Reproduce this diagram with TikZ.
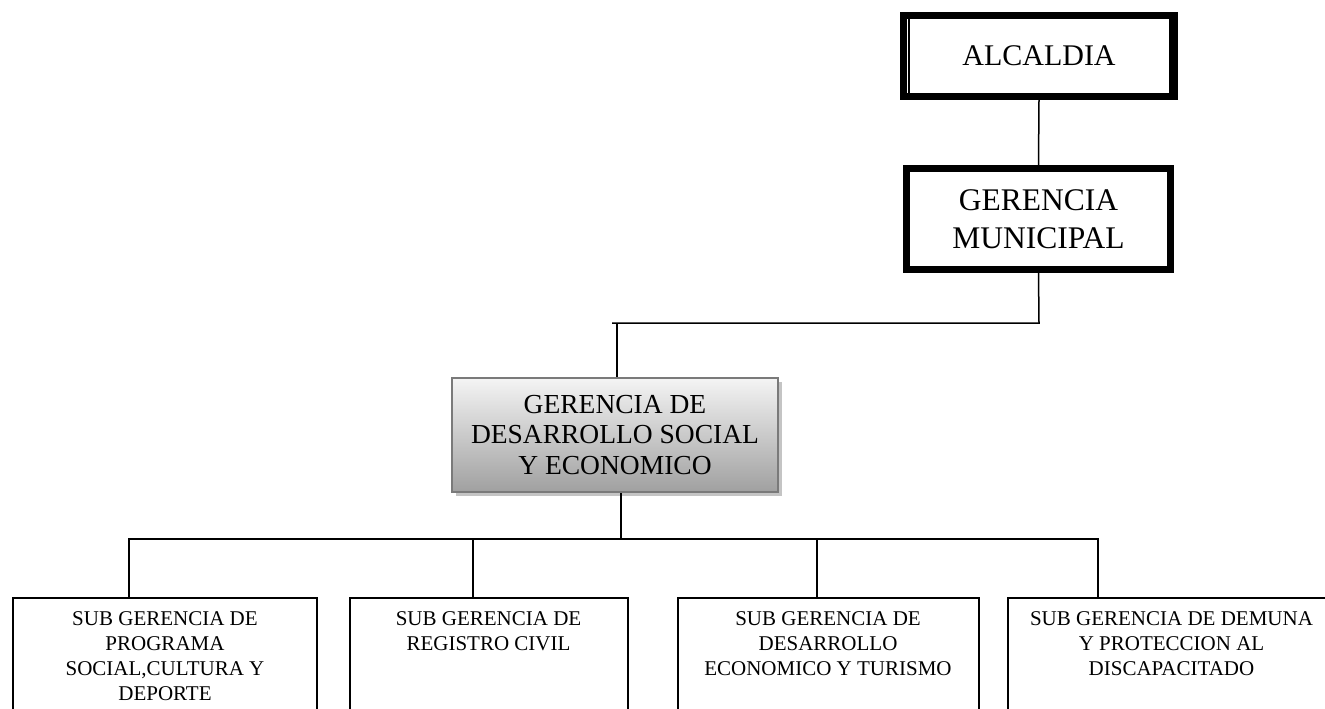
\documentclass[tikz,border=0pt]{standalone}
\usepackage{fontspec}
\setmainfont{Liberation Serif}
\usetikzlibrary{shadows}
\definecolor{gtop}{HTML}{F4F4F4}
\definecolor{gbot}{HTML}{A0A0A0}
\definecolor{gborder}{HTML}{7A7A7A}
\definecolor{gshadow}{HTML}{C4C4C4}
\begin{document}
\begin{tikzpicture}[x=1pt,y=-1pt,
  conn/.style={line width=1.5pt},
  alcbox/.style={draw, line width=7pt, minimum width=271pt, minimum height=81pt, inner sep=0pt, font=\fontsize{30}{36}\selectfont},
  innerline/.style={line width=2pt},
  gmbox/.style={draw, line width=7pt, minimum width=264pt, minimum height=101pt, inner sep=0pt, align=center, font=\fontsize{31.5}{38}\selectfont},
  gdsbox/.style={draw=gborder, line width=2pt, top color=gtop, bottom color=gbot, minimum width=326pt, minimum height=114pt, inner sep=0pt, align=center, font=\fontsize{27.5}{30.5}\selectfont,
    drop shadow={shadow xshift=4pt, shadow yshift=-4pt, fill=gshadow, opacity=1}},
  subbox/.style={draw, line width=2pt, minimum height=140pt, anchor=north, inner sep=0pt},
  subtext/.style={anchor=north, inner sep=0pt, align=center, font=\fontsize{21}{25}\selectfont}
]
\useasboundingbox (0,0) rectangle (1325,709);
\clip (0,0) rectangle (1325,709);

\node[alcbox] (alc) at (1039,56) {ALCALDIA};
\draw[innerline] ([shift={(8.5,6.5)}]alc.north west) rectangle ([shift={(-8.5,-6.5)}]alc.south east);

\node[gmbox] (gm) at (1038.5,219) {GERENCIA\\MUNICIPAL};

\node[gdsbox] (gds) at (615,435) {GERENCIA DE\\DESARROLLO SOCIAL\\Y ECONOMICO};

\node[subbox, minimum width=304pt] (sub1) at (165,597) {};
\node[subbox, minimum width=278pt] (sub2) at (488.5,597) {};
\node[subbox, minimum width=301pt] (sub3) at (828,597) {};
\node[subbox, minimum width=328pt] (sub4) at (1171.5,597) {};

\node[subtext] (sub1t) at ([yshift=-14pt]sub1.north) {SUB GERENCIA DE\\PROGRAMA\\SOCIAL,CULTURA Y\\DEPORTE};
\node[subtext] (sub2t) at ([yshift=-14pt]sub2.north) {SUB GERENCIA DE\\REGISTRO CIVIL};
\node[subtext] (sub3t) at ([yshift=-14pt]sub3.north) {SUB GERENCIA DE\\DESARROLLO\\ECONOMICO Y TURISMO};
\node[subtext] (sub4t) at ([yshift=-14pt]sub4.north) {SUB GERENCIA DE DEMUNA\\Y PROTECCION AL\\DISCAPACITADO};

% junction coordinates
\coordinate (j1) at (1039,323);
\coordinate (j1end) at (612,323);
\coordinate (j2) at (617,323);
\coordinate (bus) at (621,539);
\coordinate (busL) at (129,539);
\coordinate (busR) at (1098,539);

\draw[conn] (alc.south) -- (gm.north);
\draw[conn] (gm.south) -- (j1) -- (j1end);
\draw[conn] (j2) -- (gds.north -| j2);
\draw[conn] (gds.south -| bus) -- (bus);
\draw[conn] (sub1.north -| busL) -- (busL) -- (busR) -- (sub4.north -| busR);
\draw[conn] (sub2.north -| 473,0) -- (473,539);
\draw[conn] (sub3.north -| 817,0) -- (817,539);
\end{tikzpicture}
\end{document}
